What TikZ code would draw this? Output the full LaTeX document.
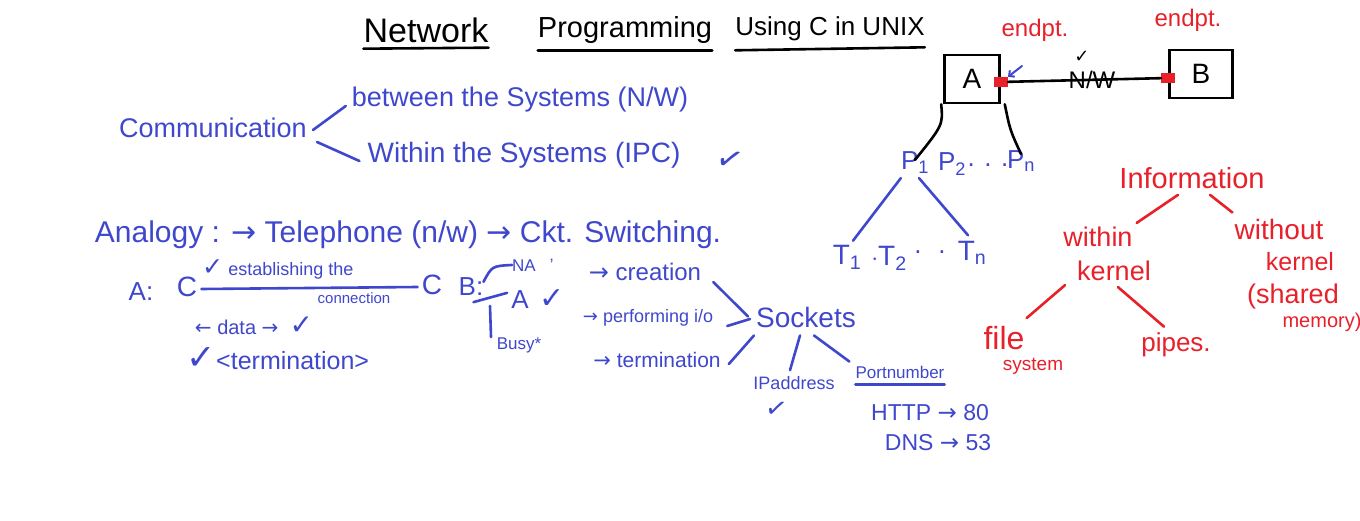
\documentclass[tikz,border=0pt]{standalone}
\usepackage{fontspec}
\setmainfont{Liberation Sans}
\newfontfamily\symfont{DejaVu Sans}
\usetikzlibrary{arrows.meta}
\definecolor{ink}{HTML}{3F48CC}
\definecolor{redink}{HTML}{E8202A}
\newcommand\myra{{\symfont →}}
\newcommand\myla{{\symfont ←}}
\newcommand\myck{\scalebox{1.4}{\symfont ✓}}
\begin{document}
\begin{tikzpicture}[x=1pt,y=-1pt,
  txt/.style={inner sep=0pt, font=\fontsize{#1}{#1}\selectfont},
  pen/.style={line width=2.6pt, line cap=round, line join=round},
  bpen/.style={pen, draw=ink},
  rpen/.style={pen, draw=redink},
  kpen/.style={pen, draw=black},
  btxt/.style={txt=#1, text=ink},
  rtxt/.style={txt=#1, text=redink},
  tick/.style={inner sep=0pt, text=ink, font=\symfont\fontsize{#1}{#1}\selectfont},
  box/.style={draw=black, line width=2.6pt, inner sep=0pt, font=\fontsize{28}{28}\selectfont},
  endp/.style={fill=redink, inner sep=0pt, minimum width=14pt, minimum height=10pt}
]
\useasboundingbox[fill=white] (0,0) rectangle (1360,521);

% ---------- title ----------
\node[txt=34] (ti1) at (426,30) {Network};
\node[txt=29] (ti2) at (625,30) {Programming};
\node[txt=26] (ti3) at (830,29) {Using C in UNIX};
\draw[kpen] ([yshift=-6pt]ti1.south west) -- ([yshift=-5pt]ti1.south east);
\draw[kpen] ([yshift=-7pt]ti2.south west) -- ([yshift=-7pt]ti2.south east);
\draw[kpen] ([yshift=-9pt]ti3.south west) -- ([yshift=-6pt]ti3.south east);

% ---------- endpoints ----------
\node[box, minimum width=55pt, minimum height=48pt] (A) at (972,79) {A};
\node[box, minimum width=63pt, minimum height=48pt] (B) at (1201,74) {B};
\node[endp] (ea) at ([yshift=-3pt]A.east) {};
\node[endp] (eb) at ([yshift=-4pt]B.west) {};
\draw[kpen] (ea) -- (eb);
\node[txt=24] (nw) at (1092,80) {N/W};
\node[inner sep=0pt, font=\symfont\fontsize{18}{18}\selectfont] (nwt) at (1082,57) {✓};
\node[rtxt=24] (epa) at (1035,30) {endpt.};
\node[rtxt=24] (epb) at (1188,20) {endpt.};
\coordinate (arrs) at (1022,66);
\draw[bpen, line width=2pt, -{Straight Barb[length=4pt]}] (arrs) -- (ea.north east);

% ---------- processes / threads ----------
\node[btxt=26] (p1) at (915,163) {P\textsubscript{1}};
\node[btxt=26] (p2) at (952,164) {P\textsubscript{2}};
\node[btxt=26] (pd) at (988,165) {. . .};
\node[btxt=26] (pn) at (1021,161) {P\textsubscript{n}};
\draw[kpen] ([xshift=-2pt]A.south west) .. controls (943,125) .. ([yshift=-8pt]p1.north);
\draw[kpen] ([xshift=4pt]A.south east) .. controls (1010,130) .. ([yshift=-4pt]pn.north);
\node[btxt=28] (T1) at (847,257) {T\textsubscript{1}};
\node[btxt=28] (T2) at (889,258) {$\cdot$T\textsubscript{2}};
\node[btxt=26] (Td) at (930,252) {. \ .};
\node[btxt=28] (Tn) at (972,253) {T\textsubscript{n}};
\draw[bpen] ([yshift=-4pt]p1.south west) -- ([xshift=6pt,yshift=4pt]T1.north);
\draw[bpen] ([xshift=4pt,yshift=-4pt]p1.south) -- ([xshift=-4pt,yshift=6pt]Tn.north);

% ---------- communication ----------
\node[btxt=27] (comm) at (213,128) {Communication};
\node[btxt=27] (betw) at (520,100) {between the Systems (N/W)};
\node[btxt=28] (with) at (524,155) {Within the Systems (IPC)};
\node[tick=32, rotate=-15] (wck) at (730,160) {✓};
\draw[bpen] ([xshift=6pt,yshift=-2pt]comm.east) -- ([xshift=-6pt,yshift=-6pt]betw.west);
\draw[bpen] ([xshift=10pt,yshift=-14pt]comm.east) -- ([xshift=-8pt,yshift=-6pt]with.west);

% ---------- analogy ----------
\node[btxt=30] (anal) at (408,235) {Analogy : \myra\ Telephone (n/w) \myra\ Ckt. Switching.};
\node[btxt=26] (Acol) at (141,292) {A:};
\node[btxt=28] (cA) at (187,287) {C};
\node[btxt=28] (cB) at (432,285) {C};
\node[btxt=26] (Bcol) at (471,287) {B:};
\draw[bpen] ([xshift=4pt,yshift=-2pt]cA.east) -- ([xshift=-4pt,yshift=-2pt]cB.west);
\node[btxt=18, anchor=west] (est) at (202,269) {\myck\ establishing the};
\node[btxt=15] (conn) at (354,298) {connection};
\node[btxt=20] (data) at (254,326) {\myla\ data \myra\ \ \myck};
\node[btxt=25] (term1) at (278,359) {\myck<termination>};

% ---------- B side states ----------
\node[btxt=17] (NA) at (533,265) {NA \ \ ʼ};
\node[btxt=26] (A2) at (520,300) {A};
\node[tick=30] (A2t) at (552,299) {✓};
\node[btxt=17] (busy) at (519,345) {Busy*};
\draw[bpen] ([yshift=-4pt]Bcol.north east) .. controls (492,266) .. (NA.west);
\draw[bpen] ([xshift=-10pt,yshift=-6pt]Bcol.south east) -- ([xshift=-4pt,yshift=-2pt]A2.north west);
\coordinate (vb1) at (490,306);
\coordinate (vb2) at (491,337);
\draw[bpen] (vb1) -- (vb2);

\node[btxt=24] (cre) at (645,272) {\myra\ creation};
\node[btxt=18] (perf) at (648,318) {\myra\ performing i/o};
\node[btxt=21] (term2) at (657,360) {\myra\ termination};
\node[btxt=28] (sock) at (806,317) {Sockets};
\draw[bpen] ([xshift=12pt,yshift=-10pt]cre.east) -- ([xshift=-8pt,yshift=-10pt]sock.north west);
\draw[bpen] ([xshift=14pt,yshift=-8pt]perf.east) -- ([xshift=-6pt,yshift=-2pt]sock.west);
\draw[bpen] ([xshift=8pt,yshift=-4pt]term2.east) -- ([xshift=-2pt,yshift=-8pt]sock.south west);

\node[btxt=18] (ip) at (794,383) {IPaddress};
\node[tick=26, rotate=-10] (ipt) at (777,409) {✓};
\node[btxt=17] (port) at (900,372) {Portnumber};
\draw[bpen] ([yshift=-6pt]port.south west) -- ([yshift=-6pt]port.south east);
\draw[bpen] ([xshift=-6pt,yshift=-8pt]sock.south) -- ([xshift=-4pt,yshift=6pt]ip.north);
\draw[bpen] ([xshift=8pt,yshift=-8pt]sock.south) -- ([xshift=-6pt,yshift=4pt]port.north west);
\node[btxt=23] (http) at (930,413) {HTTP \myra\ 80};
\node[btxt=23] (dns) at (938,443) {DNS \myra\ 53};

% ---------- information ----------
\node[rtxt=29] (info) at (1192,178) {Information};
\node[rtxt=27] (within) at (1098,237) {within};
\node[rtxt=27] (kern1) at (1114,271) {kernel};
\node[rtxt=28] (without) at (1279,229) {without};
\node[rtxt=25] (kern2) at (1300,262) {kernel};
\node[rtxt=27] (shared) at (1293,297) {(shared};
\node[rtxt=20] (memory) at (1322,322) {memory)};
\draw[rpen] ([xshift=-14pt,yshift=-6pt]info.south) -- ([xshift=4pt,yshift=4pt]within.north east);
\draw[rpen] ([xshift=18pt,yshift=-6pt]info.south) -- ([xshift=-2pt,yshift=6pt]without.north west);
\node[rtxt=32] (file) at (1004,338) {file};
\node[rtxt=19] (system) at (1033,366) {system};
\node[rtxt=26] (pipes) at (1176,345) {pipes.};
\draw[rpen] ([xshift=-12pt,yshift=-4pt]kern1.south west) -- ([xshift=2pt,yshift=8pt]file.north east);
\draw[rpen] ([xshift=4pt,yshift=-6pt]kern1.south) -- ([xshift=-12pt,yshift=6pt]pipes.north);
\end{tikzpicture}
\end{document}
